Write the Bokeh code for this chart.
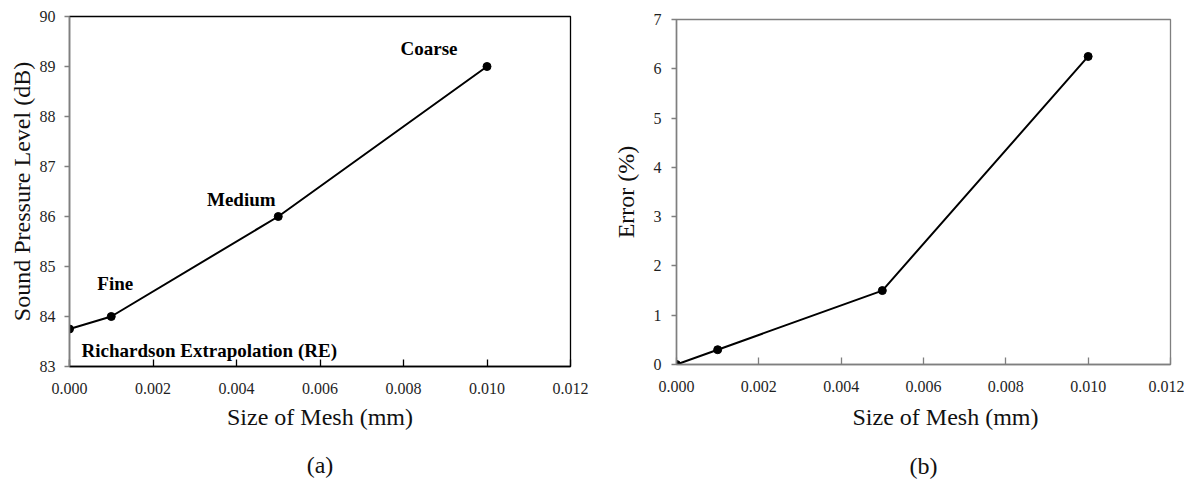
from bokeh.plotting import figure
from bokeh.layouts import row, column
from bokeh.models import Range1d, FixedTicker, NumeralTickFormatter, Title, ColumnDataSource, Spacer
from bokeh.core.properties import value
from bokeh.embed import file_html
from bokeh.resources import INLINE

# ---- data ----
mesh_size = [0.0, 0.001, 0.005, 0.010]
spl_db = [83.75, 84.0, 86.0, 89.0]
error_pct = [0.0, 0.3, 1.5, 6.25]
point_names = ["Richardson Extrapolation (RE)", "Fine", "Medium", "Coarse"]
x_ticks = [0.0, 0.002, 0.004, 0.006, 0.008, 0.010, 0.012]
spl_ticks = [83, 84, 85, 86, 87, 88, 89, 90]
err_ticks = [0, 1, 2, 3, 4, 5, 6, 7]

# label placement (screen offsets from each point)
lab_dx = [12, 4, -37, -58]
lab_dy = [21, -33, -17, -18]
lab_align = ["left", "center", "center", "center"]

SERIF = "Liberation Serif"


def make_panel(y, yr, yticks, ylabel, caption, fw, fh, bl, br, bt, bb,
               xaxis_col, ycol, box_col, xt_align, xt_off, ylab_standoff, ytick_standoff,
               t1_standoff, t2_standoff):
    p = figure(frame_width=fw, frame_height=fh,
               x_range=Range1d(0, 0.012), y_range=Range1d(*yr),
               output_backend="svg", toolbar_location=None,
               min_border_left=bl, min_border_right=br,
               min_border_top=bt, min_border_bottom=bb,
               background_fill_color="white", border_fill_color="white")
    p.grid.visible = False
    p.outline_line_color = box_col
    p.outline_line_width = 1.3
    p.outline_line_alpha = 1

    xa = p.xaxis[0]
    xa.ticker = FixedTicker(ticks=x_ticks)
    xa.formatter = NumeralTickFormatter(format="0.000")
    xa.major_tick_in = 7
    xa.major_tick_out = 0
    xa.minor_tick_line_color = None
    xa.axis_line_color = xaxis_col
    xa.axis_line_width = 1.5
    xa.major_tick_line_color = xaxis_col
    xa.major_tick_line_width = 1.3
    xa.major_label_text_font = SERIF
    xa.major_label_text_font_size = "16px"
    xa.major_label_text_color = "#1f1f1f"
    xa.major_label_standoff = 16

    ya = p.yaxis[0]
    ya.ticker = FixedTicker(ticks=yticks)
    ya.major_tick_in = 0
    ya.major_tick_out = 5
    ya.minor_tick_line_color = None
    ya.axis_line_color = ycol
    ya.axis_line_width = 1.5
    ya.major_tick_line_color = ycol
    ya.major_tick_line_width = 1.3
    ya.major_label_text_font = SERIF
    ya.major_label_text_font_size = "16px"
    ya.major_label_text_color = "#1f1f1f"
    ya.major_label_standoff = ytick_standoff
    ya.axis_label = ylabel
    ya.axis_label_text_font = SERIF
    ya.axis_label_text_font_size = "24px"
    ya.axis_label_text_font_style = "normal"
    ya.axis_label_text_color = "#111111"
    ya.axis_label_standoff = ylab_standoff

    src = ColumnDataSource(dict(x=mesh_size, y=y))
    p.line("x", "y", source=src, line_color="black", line_width=2)
    p.scatter("x", "y", source=src, marker="circle", size=8,
              fill_color="black", line_color="black")

    t1 = Title(text="Size of Mesh (mm)", align=xt_align, offset=xt_off,
               text_font=SERIF, text_font_size="24px", text_font_style="normal",
               text_color="#111111", standoff=t1_standoff)
    p.add_layout(t1, "below")
    t2 = Title(text=caption, align="center",
               text_font=SERIF, text_font_size="24px", text_font_style="normal",
               text_color="#111111", standoff=t2_standoff)
    p.add_layout(t2, "below")
    return p, src


pa, src_a = make_panel(spl_db, (83, 90), spl_ticks, "Sound Pressure Level (dB)", "(a)",
                       501, 350, 69, 34, 16, 60, "black", "#7f7f7f", "black",
                       "center", 0, 2, 9, 11, 28)
lab_src = ColumnDataSource(dict(x=mesh_size, y=spl_db, name=point_names,
                                dx=lab_dx, dy=lab_dy, align=lab_align))
pa.text("x", "y", text="name", x_offset="dx", y_offset="dy", text_align="align",
        text_baseline="middle", source=lab_src,
        text_font=value(SERIF), text_font_style="bold", text_font_size="19px",
        text_color="black")

pb, src_b = make_panel(error_pct, (0, 7), err_ticks, "Error (%)", "(b)",
                       494, 345, 72, 14, 16, 60, "#7f7f7f", "#7f7f7f", "#7f7f7f",
                       "left", 176, 12, 10, 15, 27)

layout = row(pa, column(Spacer(height=3), pb))
open("out.html", "w").write(file_html(layout, INLINE))
